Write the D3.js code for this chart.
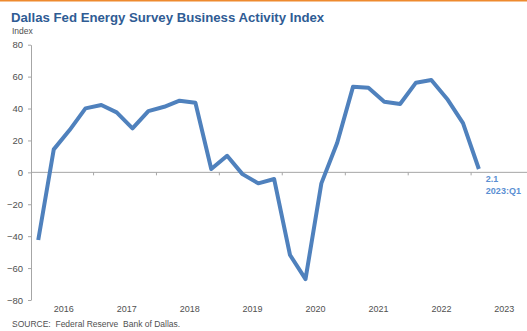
<!DOCTYPE html>
<html>
<head>
<meta charset="utf-8">
<script src="https://cdn.jsdelivr.net/npm/d3@7"></script>
<style>
  body { margin: 0; background: #fff; }
  svg { display: block; font-family: "Liberation Sans", Arial, sans-serif; }
</style>
</head>
<body>
<div id="viz_activity"></div>
<script>
// quarterly index values, 2016:Q1 .. 2023:Q1
const quarters = ["2016:Q1","2016:Q2","2016:Q3","2016:Q4","2017:Q1","2017:Q2","2017:Q3","2017:Q4",
  "2018:Q1","2018:Q2","2018:Q3","2018:Q4","2019:Q1","2019:Q2","2019:Q3","2019:Q4",
  "2020:Q1","2020:Q2","2020:Q3","2020:Q4","2021:Q1","2021:Q2","2021:Q3","2021:Q4",
  "2022:Q1","2022:Q2","2022:Q3","2022:Q4","2023:Q1"];
const activity = [-42.4, 14.4, 26.5, 40.1, 42.2, 37.6, 27.6, 38.4,
  41.1, 44.9, 43.6, 2.1, 10.4, -1.1, -6.9, -4.2,
  -51.8, -66.9, -6.9, 18.6, 53.7, 53.0, 44.3, 42.8,
  56.2, 57.9, 46.0, 30.8, 2.1];
const yTicks = [-80, -60, -40, -20, 0, 20, 40, 60, 80];
const years = [2016, 2017, 2018, 2019, 2020, 2021, 2022, 2023];

const width = 527, height = 331;
const lineColor = "#4f81bd";
const textGrey = "#505050";

// quarter label -> middle of the quarter
function qDate(q) {
  const [y, n] = q.split(":Q");
  return new Date(+y, (+n - 1) * 3 + 1, 15);
}

const data = quarters.map((q, i) => ({q: q, date: qDate(q), value: activity[i]}));

const x = d3.scaleTime()
  .domain([new Date(2016, 0, 1), new Date(2024, 0, 1)])
  .range([30.5, 534]);
const y = d3.scaleLinear().domain([-80, 80]).range([300, 44.7]);

const svg = d3.create("svg").attr("width", width).attr("height", height);

// orange rule at the top
svg.append("rect").attr("x", 0).attr("y", 0).attr("width", width).attr("height", 1.5)
  .attr("fill", "#ee8a2e");

svg.append("text").attr("x", 11).attr("y", 22)
  .attr("font-size", 13.2).attr("font-weight", "bold").attr("fill", "#2f5c94")
  .text("Dallas Fed Energy Survey Business Activity Index");

svg.append("text").attr("x", 12).attr("y", 34)
  .attr("font-size", 8.5).attr("fill", textGrey)
  .text("Index");

// y axis
const yAxis = svg.append("g")
  .attr("transform", "translate(31,0)")
  .call(d3.axisLeft(y).tickValues(yTicks).tickSize(3).tickPadding(5).tickSizeOuter(0));
yAxis.select(".domain").attr("stroke", "#a6a6a6");
yAxis.selectAll(".tick line").attr("stroke", "#a6a6a6");
yAxis.selectAll(".tick text").attr("font-size", 9.5).attr("fill", textGrey)
  .attr("font-family", "Liberation Sans, Arial, sans-serif");

// zero line with year ticks
svg.append("line")
  .attr("x1", 31).attr("x2", width)
  .attr("y1", y(0)).attr("y2", y(0))
  .attr("stroke", "#a6a6a6").attr("stroke-width", 1);
svg.append("g").selectAll("line")
  .data(years.slice(1))
  .join("line")
  .attr("x1", d => x(new Date(d, 0, 1))).attr("x2", d => x(new Date(d, 0, 1)))
  .attr("y1", y(0)).attr("y2", y(0) + 3)
  .attr("stroke", "#a6a6a6");

// year labels along the bottom
svg.append("g").selectAll("text")
  .data(years)
  .join("text")
  .attr("x", d => x(new Date(d, 6, 1)) + 2)
  .attr("y", 312)
  .attr("text-anchor", "middle")
  .attr("font-size", 9).attr("fill", textGrey)
  .text(d => d);

// the series
const line = d3.line().x(d => x(d.date)).y(d => y(d.value));
svg.append("path")
  .datum(data)
  .attr("d", line)
  .attr("fill", "none")
  .attr("stroke", lineColor)
  .attr("stroke-width", 4)
  .attr("stroke-linejoin", "round");

// last value label
const last = data[data.length - 1];
const lbl = svg.append("g")
  .attr("font-size", 9).attr("font-weight", "bold").attr("fill", "#5b8fd3");
lbl.append("text").attr("x", x(last.date) + 7).attr("y", y(last.value) + 13)
  .text(d3.format(".1f")(last.value));
lbl.append("text").attr("x", x(last.date) + 7).attr("y", y(last.value) + 25.5)
  .text(last.q);

svg.append("text").attr("x", 12).attr("y", 327)
  .attr("font-size", 8.5).attr("fill", textGrey)
  .attr("xml:space", "preserve")
  .text("SOURCE:  Federal Reserve  Bank of Dallas.");

d3.select("#viz_activity").node().append(svg.node());
</script>
</body>
</html>
